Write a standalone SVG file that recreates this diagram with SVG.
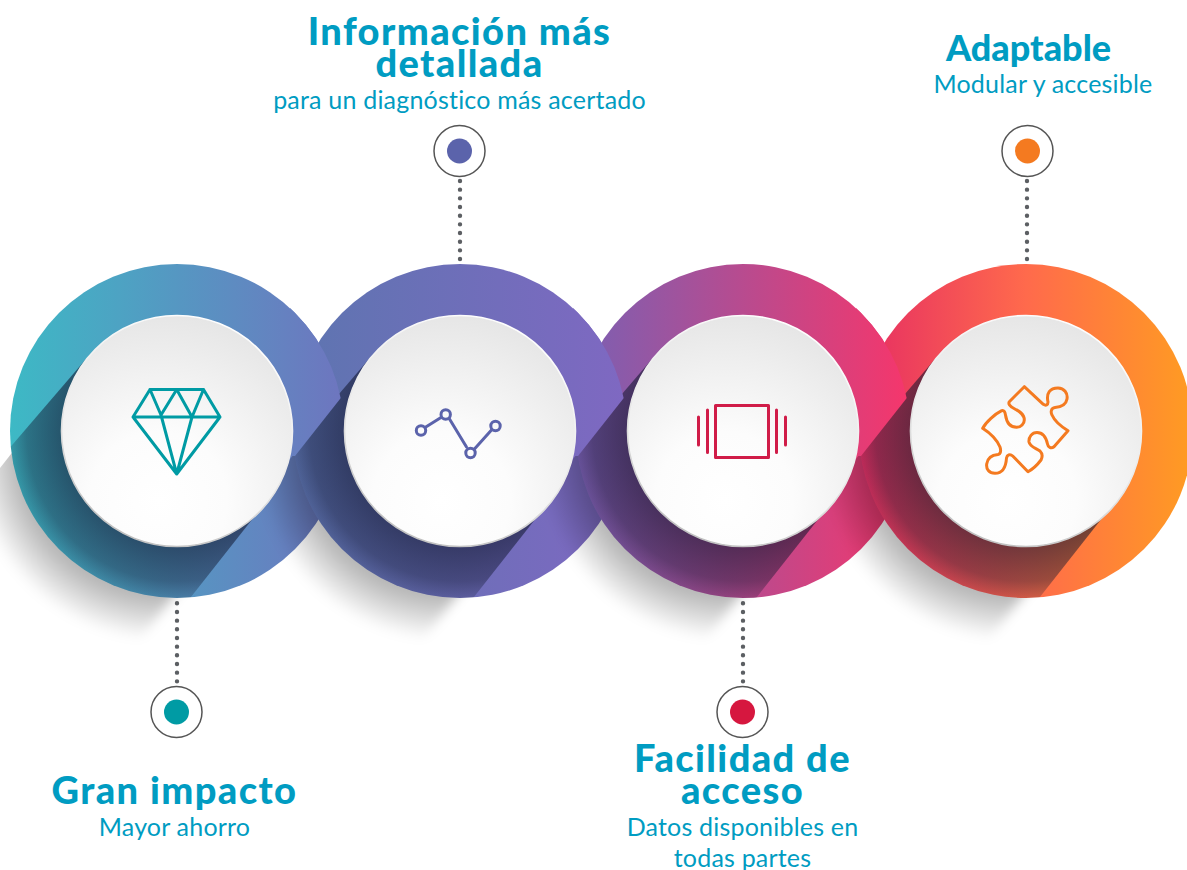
<svg xmlns="http://www.w3.org/2000/svg" xmlns:xlink="http://www.w3.org/1999/xlink" width="1187" height="870" viewBox="0 0 1187 870">
<style>
.t{font-family:"Lato","Open Sans",sans-serif;font-weight:900;font-size:38px;letter-spacing:1.4px;font-variant-ligatures:none;fill:#009cc2;text-anchor:middle}
.s{font-family:"Lato","Open Sans",sans-serif;font-size:25px;letter-spacing:.2px;font-variant-ligatures:none;fill:#009cc2;text-anchor:middle}
.ring{fill:#fff;stroke:#555;stroke-width:1.5}
.dots{stroke:#5c5f63;stroke-width:4.4;stroke-linecap:round;stroke-dasharray:0 8.67;fill:none}
.ic{fill:none;stroke-width:3;stroke-linejoin:round;stroke-linecap:round}
</style>
<defs>
<linearGradient id="g1" x1="0" x2="1" y1="0" y2="0"><stop offset="0" stop-color="#3db9c5"/><stop offset="1" stop-color="#6e75bf"/></linearGradient>
<linearGradient id="g2" x1="0" x2="1" y1="0" y2="0"><stop offset="0" stop-color="#5d75b0"/><stop offset="1" stop-color="#7f68c2"/></linearGradient>
<linearGradient id="g3" x1="0" x2="1" y1="0" y2="0"><stop offset="0" stop-color="#7a60b3"/><stop offset="1" stop-color="#f6366b"/></linearGradient>
<linearGradient id="g4" x1="0" x2="1" y1="0" y2="0"><stop offset="0" stop-color="#e62e63"/><stop offset=".5" stop-color="#ff6a4c"/><stop offset="1" stop-color="#ff9c22"/></linearGradient>
<radialGradient id="ls" gradientUnits="userSpaceOnUse" cx="0" cy="0" r="167"><stop offset="0" stop-color="#10162e" stop-opacity=".58"/><stop offset=".7" stop-color="#10162e" stop-opacity=".58"/><stop offset=".9" stop-color="#10162e" stop-opacity=".42"/><stop offset="1" stop-color="#10162e" stop-opacity=".2"/></radialGradient>
<radialGradient id="gr" gradientUnits="userSpaceOnUse" cx="-15" cy="20" r="190"><stop offset="0" stop-color="#000" stop-opacity=".29"/><stop offset=".75" stop-color="#000" stop-opacity=".29"/><stop offset="1" stop-color="#000" stop-opacity="0"/></radialGradient>
<radialGradient id="w" cx=".42" cy=".8" r=".85"><stop offset="0" stop-color="#fff"/><stop offset=".35" stop-color="#fcfcfc"/><stop offset="1" stop-color="#e4e4e4"/></radialGradient>
<linearGradient id="rim" x1=".7" y1="0" x2=".3" y2="1"><stop offset="0" stop-color="#fff"/><stop offset=".55" stop-color="#e8e8e8"/><stop offset="1" stop-color="#bdbdbd"/></linearGradient>
<filter id="b" x="-30%" y="-30%" width="160%" height="160%"><feGaussianBlur stdDeviation="6"/></filter>
<circle id="o" r="167"/>
<clipPath id="co"><circle r="167"/></clipPath>
<g id="band"><path d="M88 72 L-153 378 L-350 230 L-91 -72Z" fill="url(#ls)" clip-path="url(#co)"/></g>
<clipPath id="gsc"><path d="M-91 -72 L-350 256 L-350 500 L300 500 L300 -72Z"/></clipPath>
<g id="gs"><g clip-path="url(#gsc)"><path d="M70 72 L-171 378 L-380 300 L-110 -96Z" fill="url(#gr)" filter="url(#b)"/></g></g>
<g id="inner"><circle r="115.5" fill="url(#w)" stroke="url(#rim)" stroke-width="1.6"/></g>
<clipPath id="a12"><path d="M355 380 L295 456 L290 456 L290 200 L355 200Z"/></clipPath>
<clipPath id="a23"><path d="M638 380 L578 456 L573 456 L573 200 L638 200Z"/></clipPath>
<clipPath id="a34"><path d="M921 380 L861 456 L856 456 L856 200 L921 200Z"/></clipPath>
</defs>
<g id="connectors">
<path class="dots" d="M177 603.3V682"/>
<path class="dots" d="M460 181V263"/>
<path class="dots" d="M743 603.3V682"/>
<path class="dots" d="M1027 181V263"/>
</g>
<g id="discs">
<g transform="translate(177 431)"><use xlink:href="#gs"/><use xlink:href="#o" fill="url(#g1)"/><use xlink:href="#band"/></g>
<g transform="translate(460 431)"><use xlink:href="#gs"/><use xlink:href="#o" fill="url(#g2)"/><use xlink:href="#band"/></g>
<g clip-path="url(#a12)"><g transform="translate(177 431)"><use xlink:href="#o" fill="url(#g1)"/></g></g>
<g transform="translate(743 431)"><use xlink:href="#gs"/><use xlink:href="#o" fill="url(#g3)"/><use xlink:href="#band"/></g>
<g clip-path="url(#a23)"><g transform="translate(460 431)"><use xlink:href="#o" fill="url(#g2)"/></g></g>
<g transform="translate(1026 431)"><use xlink:href="#gs"/><use xlink:href="#o" fill="url(#g4)"/><use xlink:href="#band"/></g>
<g clip-path="url(#a34)"><g transform="translate(743 431)"><use xlink:href="#o" fill="url(#g3)"/></g></g>
</g>
<g id="node-impacto">
<use xlink:href="#inner" x="177" y="431"/>
<g class="ic" stroke="#009ba4"><path d="M150 389.500H203.500L220 417L176.700 474L133 417ZM133 417H220M150 389.500L161 415L176.700 474L192 417L203.500 389.500M161 415L176.700 389.500L192 417"/></g>
<circle class="ring" cx="176.500" cy="712" r="25.500"/><circle cx="176.500" cy="712" r="12.500" fill="#009ba4"/>
<text class="t" x="174.500" y="804">Gran impacto</text><text class="s" x="174.500" y="836">Mayor ahorro</text>
</g>
<g id="node-info">
<use xlink:href="#inner" x="460" y="431"/>
<g class="ic" stroke="#5b63ab"><path d="M425 427.500L441 417.500M449.500 419L466.500 447M474 449.500L491.500 430"/><circle cx="421" cy="430.500" r="4.700"/><circle cx="445.700" cy="414.500" r="4.700"/><circle cx="470.500" cy="453" r="4.700"/><circle cx="495.500" cy="426" r="4.700"/></g>
<circle class="ring" cx="459.500" cy="151" r="25.500"/><circle cx="459.500" cy="151" r="12.500" fill="#5b63ab"/>
<text class="t" x="459.500" y="45">Información más</text><text class="t" x="459.500" y="77">detallada</text><text class="s" x="459.500" y="109">para un diagnóstico más acertado</text>
</g>
<g id="node-acceso">
<use xlink:href="#inner" x="743" y="431"/>
<g class="ic" stroke="#d01c48"><rect x="715.500" y="405.500" width="53" height="52"/><path d="M707.500 410V452.500M698.500 417V445M776.500 410V452.500M785.500 417V445"/></g>
<circle class="ring" cx="742.500" cy="712" r="25.500"/><circle cx="742.500" cy="712" r="12.500" fill="#d6173f"/>
<text class="t" x="742.500" y="772">Facilidad de</text><text class="t" x="742.500" y="804">acceso</text><text class="s" x="742.500" y="836">Datos disponibles en</text><text class="s" x="742.500" y="867">todas partes</text>
</g>
<g id="node-adaptable">
<use xlink:href="#inner" x="1026" y="431"/>
<path class="ic" stroke="#f47a20" d="M1024.300 386.700L1043.300 404.300C1046 406 1048 405 1048 402C1046 393 1050 388 1058 388C1064 388 1068 393 1067 399C1066 405 1061 407 1055 407.500C1051 408 1050.500 412 1052 415C1055 422 1062 427 1068 430.700L1054 446.700C1051 449 1048 447 1047.500 444C1046 437 1043 432.500 1037 432.500C1032 432.500 1028.500 437 1029 442C1030 447 1036 448 1040 451C1043 454 1042 458 1041 460C1038 464 1033 469 1028 471.700L1012.700 456C1010 453.500 1007 455 1006.500 458C1006 466 1003 473.300 995 473.300C989 473.300 986 469 986.700 464C987.500 458 992 455 998 454.500C1001 454 1001 450 1000 447C997 440 990 433 982.700 428.300C986 422 995 414 1001.700 410.700C1004 410 1005 412 1005.500 415C1006.500 422 1010 427.300 1016.700 427.300C1021 427.300 1024.300 423.500 1024.300 420C1024.300 414 1019 411 1014 408.500C1010 406.500 1008 404 1009.300 401.700Z"/>
<circle class="ring" cx="1027.500" cy="151" r="25.500"/><circle cx="1027.500" cy="151" r="12.500" fill="#f47a20"/>
<text class="t" style="font-size:36px;letter-spacing:0" x="1028.500" y="61">Adaptable</text><text class="s" x="1043" y="93">Modular y accesible</text>
</g>
</svg>
